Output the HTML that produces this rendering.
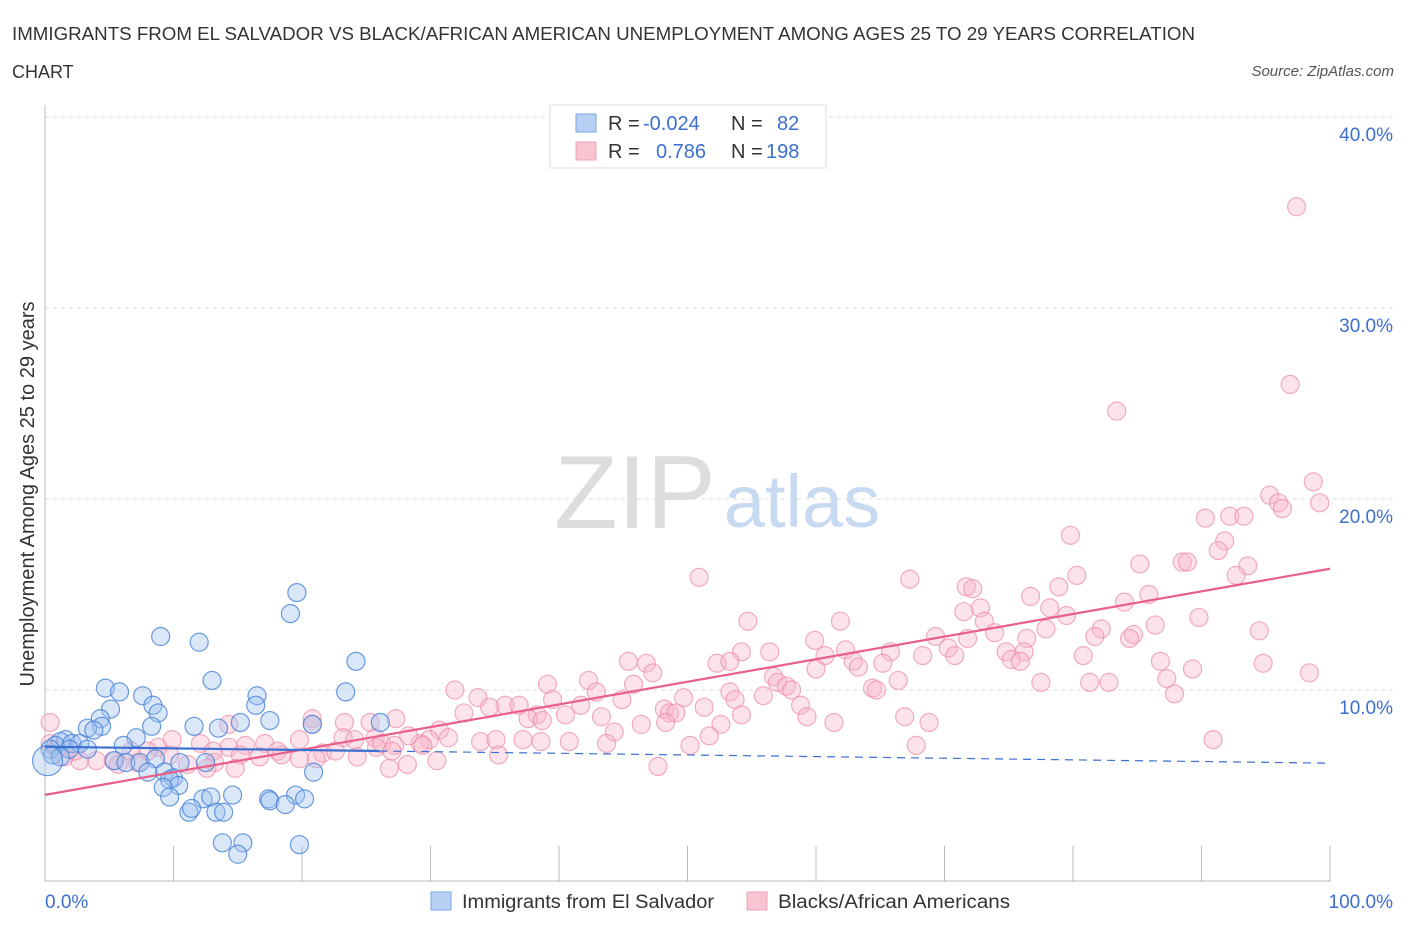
<!DOCTYPE html>
<html><head><meta charset="utf-8"><style>
body{margin:0;background:#fff;font-family:"Liberation Sans",sans-serif;}
svg text{font-family:"Liberation Sans",sans-serif;}
</style></head><body>
<svg id="chart" width="1406" height="930" xmlns="http://www.w3.org/2000/svg">
<text x="12" y="40" font-size="18" fill="#333" textLength="1183" lengthAdjust="spacingAndGlyphs">IMMIGRANTS FROM EL SALVADOR VS BLACK/AFRICAN AMERICAN UNEMPLOYMENT AMONG AGES 25 TO 29 YEARS CORRELATION</text>
<text x="12" y="78" font-size="18" fill="#333">CHART</text>
<text x="1394" y="76" font-size="15" fill="#555" text-anchor="end" font-style="italic">Source: ZipAtlas.com</text>
<g>
<text x="635" y="528" font-size="104" fill="#ddd" text-anchor="middle" font-family="Liberation Serif">ZIP</text>
<text x="802" y="527" font-size="74" fill="#c8daf2" text-anchor="middle">atlas</text>
</g>
<g id="grid"></g><g id="axes"></g><g id="marks"></g>
<text transform="translate(34,494) rotate(-90)" font-size="20" fill="#333" text-anchor="middle" textLength="385" lengthAdjust="spacingAndGlyphs">Unemployment Among Ages 25 to 29 years</text>
<g>
<rect x="550" y="105" width="276" height="63" fill="#fff" stroke="#ddd"/>
<rect x="576" y="114" width="20" height="18" fill="#b8d0f4" stroke="#7aa7e0"/>
<text x="608" y="130" font-size="20" fill="#333">R = </text><text x="643" y="130" font-size="20" fill="#3b6fd0">-0.024</text>
<text x="731" y="130" font-size="20" fill="#333">N = </text><text x="777" y="130" font-size="20" fill="#3b6fd0">82</text>
<rect x="576" y="142" width="20" height="18" fill="#f8c4d2" stroke="#eda0b8"/>
<text x="608" y="158" font-size="20" fill="#333">R = </text><text x="656" y="158" font-size="20" fill="#3b6fd0">0.786</text>
<text x="731" y="158" font-size="20" fill="#333">N = </text><text x="766" y="158" font-size="20" fill="#3b6fd0">198</text>
</g>
<g>
<rect x="431" y="892" width="20" height="18" fill="#b8d0f4" stroke="#7aa7e0"/>
<text x="462" y="908" font-size="19" fill="#333" textLength="252" lengthAdjust="spacingAndGlyphs">Immigrants from El Salvador</text></g>
<g>
<rect x="747" y="892" width="20" height="18" fill="#f8c4d2" stroke="#eda0b8"/>
<text x="778" y="908" font-size="19" fill="#333" textLength="232" lengthAdjust="spacingAndGlyphs">Blacks/African Americans</text></g>
</svg>
<script>
const blueX=[9.0,12.0,19.6,19.1,24.2,13.0,4.7,5.8,7.6,16.5,23.4,5.1,8.4,8.8,16.4,4.3,4.4,8.3,11.6,13.5,15.2,17.5,20.8,26.1,3.3,3.8,7.1,1.6,1.2,0.8,2.1,2.7,6.1,0.4,1.9,3.3,0.6,1.2,5.4,6.3,7.4,8.6,10.5,12.5,9.3,8.0,10.0,9.7,20.9,10.4,9.2,9.7,12.3,12.9,14.6,17.4,17.5,19.5,20.2,18.7,11.2,11.4,13.3,13.9,13.8,15.4,15.0,19.8,0.2];
const blueY=[12.8,12.5,15.1,14.0,11.5,10.5,10.1,9.9,9.7,9.7,9.9,9.0,9.2,8.8,9.2,8.5,8.1,8.1,8.1,8.0,8.3,8.4,8.2,8.3,8.0,7.9,7.5,7.4,7.3,7.1,7.2,7.2,7.1,6.9,6.9,6.9,6.6,6.5,6.3,6.2,6.2,6.4,6.2,6.2,5.7,5.7,5.4,5.3,5.7,5.0,4.9,4.4,4.3,4.4,4.5,4.3,4.2,4.5,4.3,4.0,3.6,3.8,3.6,3.6,2.0,2.0,1.4,1.9,6.3];
const pinkX=[97.4,96.9,83.4,98.7,95.3,96.0,96.3,99.2,90.3,92.2,93.3,91.8,79.8,91.3,88.5,88.9,85.2,93.6,92.7,50.9,67.3,80.3,78.9,71.7,72.2,85.9,76.7,84.0,78.2,72.8,71.5,73.1,79.5,54.7,61.9,89.8,86.4,94.5,82.2,77.9,73.9,84.7,76.4,69.3,71.8,84.4,81.7,70.3,59.9,54.2,56.4,62.3,74.8,76.2,65.8,68.3,70.8,60.7,62.9,75.2,75.9,45.4,46.8,52.3,53.3,63.3,65.2,80.8,86.8,89.3,94.8,98.4,47.3,60.0,56.7,57.0,87.3,77.5,81.3,82.8,64.4,66.4,57.7,64.7,58.1,87.9,39.1,45.8,42.3,42.9,31.9,53.3,49.7,33.7,39.5,44.9,53.7,55.9,35.8,36.9,34.6,32.6,41.7,48.2,48.6,51.3,58.8,38.3,40.5,43.3,49.1,54.2,59.3,61.4,66.9,68.8,37.6,38.7,30.7,44.3,46.4,48.3,52.6,20.8,27.3,25.3,23.3,31.4,29.9,29.2,28.3,25.7,23.2,19.8,24.1,25.8,26.2,29.4,27.2,38.6,33.9,35.1,37.2,40.8,51.7,67.8,50.2,43.7,90.9,12.1,14.3,15.6,17.1,18.1,13.1,15.2,16.7,18.4,21.6,22.6,24.3,27.0,21.1,19.8,30.5,28.2,26.8,35.3,47.7,11.1,13.2,14.8,12.6,9.7,8.8,9.9,6.7,8.0,5.3,4.0,2.7,1.5,0.4,0.4,0.9,2.3,7.2,5.7,14.3,20.8];
const pinkY=[35.3,26.0,24.6,20.9,20.2,19.8,19.5,19.8,19.0,19.1,19.1,17.8,18.1,17.3,16.7,16.7,16.6,16.5,16.0,15.9,15.8,16.0,15.4,15.4,15.3,15.0,14.9,14.6,14.3,14.3,14.1,13.6,13.9,13.6,13.6,13.8,13.4,13.1,13.2,13.2,13.0,12.9,12.7,12.8,12.7,12.7,12.8,12.2,12.6,12.0,12.0,12.1,12.0,12.0,12.0,11.8,11.8,11.8,11.5,11.6,11.5,11.5,11.4,11.4,11.5,11.2,11.4,11.8,11.5,11.1,11.4,10.9,10.9,11.1,10.7,10.4,10.6,10.4,10.4,10.4,10.1,10.5,10.2,10.0,10.0,9.8,10.3,10.3,10.5,9.9,10.0,9.9,9.6,9.6,9.5,9.5,9.5,9.7,9.2,9.2,9.1,8.8,9.2,9.0,8.8,9.1,9.2,8.7,8.7,8.6,8.8,8.7,8.6,8.3,8.6,8.3,8.5,8.4,7.9,7.8,8.2,8.3,8.2,8.5,8.5,8.3,8.3,7.5,7.4,7.2,7.6,7.5,7.5,7.4,7.4,7.0,7.2,7.1,7.1,7.3,7.3,7.4,7.4,7.3,7.6,7.1,7.1,7.2,7.4,7.2,7.0,7.1,7.2,6.8,6.8,6.6,6.5,6.6,6.7,6.8,6.5,6.8,6.4,6.4,6.3,6.1,5.9,6.6,6.0,6.1,6.2,5.9,5.9,6.6,7.0,7.4,6.8,6.8,6.3,6.3,6.3,6.5,7.2,8.3,6.9,6.8,6.2,6.1,8.2,8.2];
const yTicks=[10,20,30,40];
const yTickLabels=["10.0%","20.0%","30.0%","40.0%"];
const xTickLabels=["0.0%","100.0%"];

const X0=45,X1=1330,Y0=881,PY=19.1;
const sx=v=>X0+(X1-X0)*v/100, sy=v=>Y0-v*PY;
const NS="http://www.w3.org/2000/svg";
function mk(tag,attrs,parent){const e=document.createElementNS(NS,tag);for(const k in attrs)e.setAttribute(k,attrs[k]);parent.appendChild(e);return e;}
const grid=document.getElementById('grid'),axes=document.getElementById('axes'),marks=document.getElementById('marks');
yTicks.forEach((t,i)=>{
  const l=mk('line',{x1:X0,x2:1395,y1:sy(t),y2:sy(t),stroke:'#ddd','stroke-dasharray':'4,4'},grid);
  
  
  const tx=mk('text',{x:1393,y:sy(t)+24,'font-size':19,fill:'#3b6fd0','text-anchor':'end'},axes);
  tx.textContent=yTickLabels[i];
  
  
});
const ax=mk('line',{x1:X0,x2:X1,y1:Y0,y2:Y0,stroke:'#bbb'},axes);


const ay=mk('line',{x1:X0,x2:X0,y1:105,y2:Y0,stroke:'#bbb'},axes);


for(let i=1;i<=10;i++){const t=mk('line',{x1:sx(i*10),x2:sx(i*10),y1:Y0-35,y2:Y0+1,stroke:'#bbb'},axes);
  
  }
[[0,'start',45],[1,'end',1393]].forEach(([i,a,x])=>{const t=mk('text',{x:x,y:908,'font-size':19,fill:'#3b6fd0','text-anchor':a},axes);t.textContent=xTickLabels[i];
  
  });
function dots(xs,ys,fill,stroke,name){xs.forEach((x,i)=>{const r=(x<0.5&&name==='blue-point'&&i===xs.length-1)?15:9;
  const c=mk('circle',{cx:sx(x),cy:sy(ys[i]),r:r,fill:fill,stroke:stroke,'stroke-width':1.2},marks);
  
  });}
dots(pinkX,pinkY,'rgba(248,182,202,0.4)','rgba(236,140,170,0.7)','pink-point');
dots(blueX,blueY,'rgba(160,196,240,0.4)','rgba(70,130,215,0.8)','blue-point');
function fit(xs,ys){const n=xs.length;let mx=0,my=0;xs.forEach((x,i)=>{mx+=x;my+=ys[i]});mx/=n;my/=n;let a=0,b=0;xs.forEach((x,i)=>{a+=(x-mx)*(ys[i]-my);b+=(x-mx)*(x-mx)});const s=a/b;return [my-s*mx,s];}
const pf=fit(pinkX,pinkY);
const pl=mk('line',{x1:sx(0),y1:sy(pf[0]),x2:sx(100),y2:sy(pf[0]+pf[1]*100),stroke:'#e8608a','stroke-width':2.2},marks);


const bf=fit(blueX,blueY);const bEnd=26;
const bl=mk('line',{x1:sx(0),y1:sy(bf[0]),x2:sx(bEnd),y2:sy(bf[0]+bf[1]*bEnd),stroke:'#3b6fd0','stroke-width':2.2},marks);


const bd=mk('line',{x1:sx(bEnd),y1:sy(bf[0]+bf[1]*bEnd),x2:sx(100),y2:sy(bf[0]+bf[1]*100),stroke:'#3b6fd0','stroke-width':1.2,'stroke-dasharray':'8,6'},marks);


</script>
</body></html>
